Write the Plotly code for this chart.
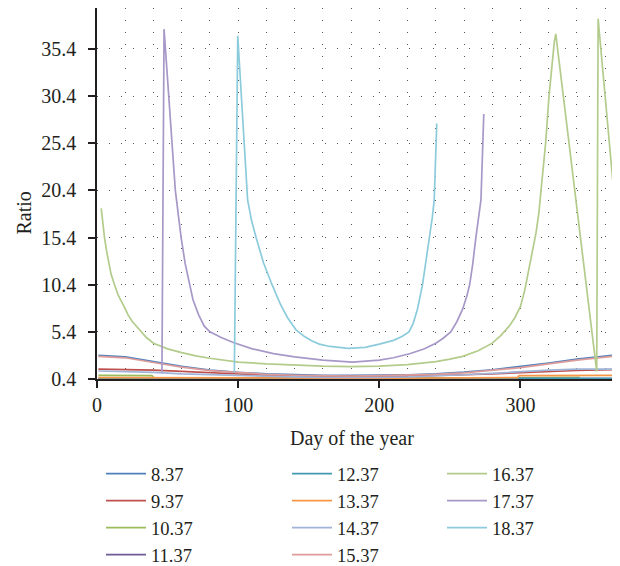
import plotly.graph_objects as go

# ---- data ----
series_names = ["8.37", "9.37", "10.37", "11.37", "12.37", "13.37",
                "14.37", "15.37", "16.37", "17.37", "18.37"]

days_low = [1, 20, 40, 60, 80, 100, 120, 140, 160, 180, 200, 220, 240, 260, 280, 300, 320, 340, 365]
ratio_837 = [2.9, 2.75, 2.25, 1.75, 1.35, 1.1, 0.95, 0.85, 0.8, 0.78, 0.8, 0.85, 0.95, 1.12, 1.38, 1.7, 2.1, 2.5, 2.9]
ratio_937 = [1.45, 1.42, 1.35, 1.2, 1.05, 0.9, 0.8, 0.72, 0.68, 0.65, 0.67, 0.7, 0.75, 0.85, 0.95, 1.08, 1.2, 1.3, 1.4]
ratio_1137 = [0.43, 0.43, 0.43, 0.42, 0.42, 0.42, 0.42, 0.42, 0.42, 0.42, 0.42, 0.42, 0.42, 0.42, 0.42, 0.42, 0.43, 0.43, 0.43]
ratio_1237 = [0.47, 0.47, 0.46, 0.46, 0.45, 0.45, 0.45, 0.45, 0.45, 0.45, 0.45, 0.45, 0.45, 0.45, 0.45, 0.46, 0.46, 0.47, 0.47]
ratio_1437 = [1.25, 1.2, 1.1, 0.95, 0.85, 0.75, 0.68, 0.62, 0.58, 0.56, 0.58, 0.62, 0.7, 0.85, 1.0, 1.2, 1.35, 1.45, 1.45]
ratio_1537 = [2.8, 2.65, 2.15, 1.65, 1.28, 1.05, 0.9, 0.8, 0.75, 0.72, 0.75, 0.8, 0.9, 1.05, 1.3, 1.6, 2.0, 2.4, 2.8]

days_1037 = [1, 20, 39, 40, 100, 180, 260, 300, 342]
ratio_1037 = [0.78, 0.77, 0.75, 0.55, 0.5, 0.47, 0.5, 0.56, 0.58]

days_1337 = [1, 100, 200, 298, 299, 365]
ratio_1337 = [0.55, 0.5, 0.48, 0.55, 0.75, 0.78]

days_1637 = [3, 4, 5.3, 7, 8.5, 10, 12.4, 15, 19.5, 22, 25, 30, 35, 40, 50, 60, 70, 80, 90, 100,
             120, 140, 160, 180, 200, 220, 240, 250, 259, 270, 280, 286, 292, 296, 300, 303, 306,
             309, 311, 313, 314.7, 316.5, 317.8, 320.2, 322.5, 324, 325, 354, 355, 366]
ratio_1637 = [18.5, 16.8, 15.4, 13.8, 12.5, 11.5, 10.4, 9.3, 8.0, 7.2, 6.5, 5.6, 4.8, 4.2, 3.6, 3.2, 2.85, 2.6, 2.4, 2.2,
              2.0, 1.85, 1.76, 1.72, 1.76, 1.92, 2.25, 2.5, 2.8, 3.4, 4.2, 5.0, 6.0, 6.9, 8.1, 9.8, 12.1,
              14.2, 15.9, 18.0, 20.4, 23.0, 25.4, 30.4, 34.0, 36.2, 37.0, 1.2, 38.6, 20.4]

days_1737 = [46, 47.5, 55.5, 57.5, 59.6, 62.5, 65.5, 68, 72, 76, 80, 88, 97, 110, 125, 140, 160, 181,
             200, 210, 222, 232, 240, 245, 250.6, 255, 259, 262, 264, 266, 268.4, 270, 272, 274]
ratio_1737 = [1.1, 37.5, 20.4, 17.6, 15.4, 12.6, 10.4, 8.8, 7.2, 6.0, 5.4, 4.8, 4.25, 3.6, 3.1, 2.75, 2.4, 2.2,
              2.4, 2.65, 3.1, 3.6, 4.2, 4.7, 5.4, 6.5, 7.8, 9.2, 10.4, 12.4, 15.4, 17.3, 19.4, 28.5]

days_1837 = [97.3, 99.7, 106.7, 109.5, 112.7, 118, 124, 130, 135, 141, 147, 152, 157.5, 165, 178,
             190, 200, 210, 216, 221, 224, 227, 230.6, 233, 235.8, 237.5, 238.9, 240.7]
ratio_1837 = [1.1, 36.8, 19.4, 17.2, 15.4, 12.7, 10.4, 8.3, 6.9, 5.6, 4.9, 4.45, 4.1, 3.85, 3.65,
              3.75, 4.1, 4.5, 4.9, 5.4, 6.3, 7.8, 10.4, 12.8, 15.5, 17.5, 19.4, 27.5]

y_tick_values = [0.4, 5.4, 10.4, 15.4, 20.4, 25.4, 30.4, 35.4]
x_tick_values = [0, 100, 200, 300]

# ---- styles ----
colors = {
    "8.37": "#4f81bd", "9.37": "#c0504d", "10.37": "#9bbb59", "11.37": "#6f5c96",
    "12.37": "#4398b4", "13.37": "#f79646", "14.37": "#9fb4d8", "15.37": "#dd9c9a",
    "16.37": "#b3cc8c", "17.37": "#a898c8", "18.37": "#8ccbdc",
}
legend_of = {
    "8.37": "legend", "9.37": "legend", "10.37": "legend", "11.37": "legend",
    "12.37": "legend2", "13.37": "legend2", "14.37": "legend2", "15.37": "legend2",
    "16.37": "legend3", "17.37": "legend3", "18.37": "legend3",
}
data = {
    "8.37": (days_low, ratio_837), "9.37": (days_low, ratio_937),
    "10.37": (days_1037, ratio_1037), "11.37": (days_low, ratio_1137),
    "12.37": (days_low, ratio_1237), "13.37": (days_1337, ratio_1337),
    "14.37": (days_low, ratio_1437), "15.37": (days_low, ratio_1537),
    "16.37": (days_1637, ratio_1637), "17.37": (days_1737, ratio_1737),
    "18.37": (days_1837, ratio_1837),
}

fig = go.Figure()
for name in series_names:
    xs, ys = data[name]
    fig.add_trace(go.Scatter(
        x=xs, y=ys, mode="lines", name=name,
        line=dict(color=colors[name], width=1.7),
        legend=legend_of[name],
    ))

FONT = "Liberation Serif"
AX = "#231f20"
GRID = "#555555"
DASH = "1px,11px"

OFF = 8  # page offset of the figure inside the browser window
L, T, W, H = 89, 0, 523, 371


def px_to_paper_x(px):
    return (px - OFF - L) / W


def px_to_paper_y(py):
    return (T + H - (py - OFF)) / H


leg_common = dict(xref="paper", yref="paper", xanchor="left", yanchor="top",
                  bgcolor="rgba(0,0,0,0)", font=dict(family=FONT, size=18.5, color=AX),
                  tracegroupgap=0, itemwidth=40, borderwidth=0)

fig.update_layout(
    width=620, height=566,
    margin=dict(l=L, r=620 - L - W, t=T, b=566 - T - H, pad=0, autoexpand=False),
    paper_bgcolor="white", plot_bgcolor="white",
    font=dict(family=FONT, size=20, color=AX),
    showlegend=True,
    legend=dict(x=px_to_paper_x(101), y=px_to_paper_y(455), **leg_common),
    legend2=dict(x=px_to_paper_x(287), y=px_to_paper_y(455), **leg_common),
    legend3=dict(x=px_to_paper_x(442), y=px_to_paper_y(455), **leg_common),
    xaxis=dict(
        range=[0, 370.5], tickvals=x_tick_values,
        showline=True, linecolor=AX, linewidth=1.5,
        ticks="outside", ticklen=7, tickwidth=1.5, tickcolor=AX,
        showgrid=True, gridcolor=GRID, gridwidth=1, griddash=DASH,
        minor=dict(dtick=20, tick0=0, showgrid=True, gridcolor=GRID, gridwidth=1,
                   griddash=DASH, ticks=""),
        zeroline=False, tickfont=dict(family=FONT, size=20, color=AX),
    ),
    yaxis=dict(
        range=[0.4, 0.4 + H / 9.43], tickvals=y_tick_values, tickformat=".1f",
        showline=True, linecolor=AX, linewidth=1.5,
        ticks="outside", ticklen=7, tickwidth=1.5, tickcolor=AX,
        showgrid=True, gridcolor=GRID, gridwidth=1, griddash=DASH,
        zeroline=False, tickfont=dict(family=FONT, size=20, color=AX),
        ticklabelstandoff=8,
    ),
    annotations=[
        dict(text="Day of the year", xref="paper", yref="paper",
             x=px_to_paper_x(352), y=px_to_paper_y(438), xanchor="center", yanchor="middle",
             showarrow=False, font=dict(family=FONT, size=20, color=AX)),
        dict(text="Ratio", xref="paper", yref="paper", textangle=-90,
             x=px_to_paper_x(23), y=px_to_paper_y(213.5), xanchor="center", yanchor="middle",
             showarrow=False, font=dict(family=FONT, size=20, color=AX)),
    ],
)

fig.write_html("out.html")
